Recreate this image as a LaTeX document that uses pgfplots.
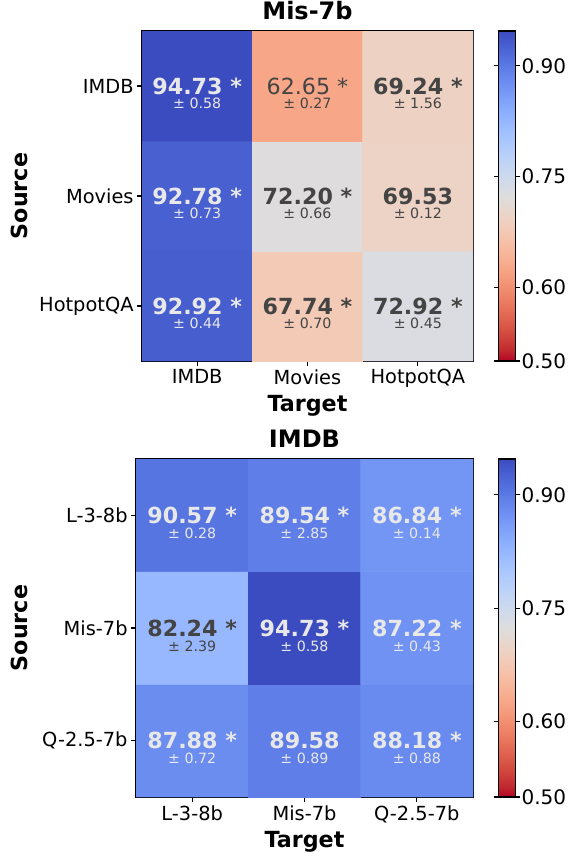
\documentclass[border=0pt]{standalone}
\usepackage{fontspec}
\setmainfont{DejaVu Sans}
\usepackage{pgfplots}
\pgfplotsset{compat=1.18}
\definecolor{lt}{RGB}{232,232,232}
\definecolor{dk}{RGB}{68,68,68}
\pgfplotsset{
 colormap={coolwarmr}{
 rgb255(0cm)=(180,4,38) rgb255(1cm)=(192,40,47) rgb255(2cm)=(203,62,56) rgb255(3cm)=(213,80,66)
 rgb255(4cm)=(222,96,77) rgb255(5cm)=(229,112,88) rgb255(6cm)=(236,127,99) rgb255(7cm)=(241,141,111)
 rgb255(8cm)=(244,154,123) rgb255(9cm)=(247,166,135) rgb255(10cm)=(247,177,148) rgb255(11cm)=(247,187,160)
 rgb255(12cm)=(245,196,173) rgb255(13cm)=(241,204,185) rgb255(14cm)=(236,211,197) rgb255(15cm)=(229,216,209)
 rgb255(16cm)=(221,221,221) rgb255(17cm)=(213,219,230) rgb255(18cm)=(204,217,238) rgb255(19cm)=(194,213,244)
 rgb255(20cm)=(184,208,249) rgb255(21cm)=(174,201,253) rgb255(22cm)=(163,194,255) rgb255(23cm)=(152,185,255)
 rgb255(24cm)=(141,176,254) rgb255(25cm)=(130,165,251) rgb255(26cm)=(119,154,247) rgb255(27cm)=(108,142,241)
 rgb255(28cm)=(98,130,234) rgb255(29cm)=(87,117,225) rgb255(30cm)=(77,104,215) rgb255(31cm)=(68,90,204)
 rgb255(32cm)=(59,76,192)
 },
 hm/.style={
  scale only axis, enlargelimits=false,
  xmin=-0.5, xmax=2.5, ymin=-0.5, ymax=2.5,
  xtick={0,1,2}, ytick={0,1,2},
  tick align=outside, major tick length=4.9pt,
  xtick pos=left, ytick pos=left,
  axis line style={line width=1.1pt, black},
  tick style={line width=1.1pt, black},
  ticklabel style={font=\fontsize{19.4}{23}\selectfont},
  title style={font=\fontsize{24}{28}\selectfont\bfseries, at={([yshift=6pt]axis description cs:0.5,1)}, anchor=base, inner sep=0pt},
  xlabel style={font=\fontsize{22.2}{26}\selectfont\bfseries, at={([yshift=-50pt]axis description cs:0.5,0)}, anchor=base, inner sep=0pt},
  colormap name=coolwarmr, point meta min=0.5, point meta max=0.9473,
  colorbar, colorbar/width=17pt,
  colorbar style={at={(parent axis.north east)}, anchor=north west, xshift=17pt,
    ytick={0.5,0.6,0.75,0.9}, yticklabels={0.50,0.60,0.75,0.90},
    yticklabel style={font=\fontsize{20}{24}\selectfont, inner sep=1pt},
    tick align=outside, major tick length=4.9pt,
    tick style={line width=1.1pt, black},
    axis line style={line width=1.1pt, black}},
 }
}
\newcommand\cell[7]{% x y ysd main sd color series
 \node[text=#6, font=\fontsize{22.2}{26}\selectfont#7, inner sep=0pt] at (axis cs:#1,#2) {#4};
 \node[text=#6, font=\fontsize{14.2}{17}\selectfont, inner sep=0pt] at (axis cs:#1,#3) {± #5};}
\begin{document}
\begin{tikzpicture}
\path[use as bounding box] (0pt,0pt) rectangle (570pt,-852pt);
\begin{axis}[hm, name=top, at={(142pt,-31pt)}, anchor=north west,
  width=331pt, height=330pt,
  xticklabels={IMDB,Movies,HotpotQA}, yticklabels={HotpotQA,Movies,IMDB},
  title={Mis-7b}, xlabel={Target}, ylabel={Source},
  ylabel style={font=\fontsize{22.2}{26}\selectfont\bfseries, at={([xshift=-114pt]axis description cs:0,0.5)}, anchor=base, inner sep=0pt}]
\addplot[matrix plot*, mesh/cols=3, point meta=explicit] table[x=x, y=y, meta=v] {
x y v
0 0 0.9292
1 0 0.6774
2 0 0.7292
0 1 0.9278
1 1 0.7220
2 1 0.6953
0 2 0.9473
1 2 0.6265
2 2 0.6924
};
\cell{0}{2}{1.84}{94.73 *}{0.58}{lt}{\bfseries}
\cell{1}{2}{1.84}{62.65 *}{0.27}{dk}{\mdseries}
\cell{2}{2}{1.84}{69.24 *}{1.56}{dk}{\bfseries}
\cell{0}{1}{0.84}{92.78 *}{0.73}{lt}{\bfseries}
\cell{1}{1}{0.84}{72.20 *}{0.66}{dk}{\bfseries}
\cell{2}{1}{0.84}{69.53}{0.12}{dk}{\bfseries}
\cell{0}{0}{-0.16}{92.92 *}{0.44}{lt}{\bfseries}
\cell{1}{0}{-0.16}{67.74 *}{0.70}{dk}{\bfseries}
\cell{2}{0}{-0.16}{72.92 *}{0.45}{dk}{\bfseries}
\end{axis}
\begin{axis}[hm, name=bot, at={(136pt,-459pt)}, anchor=north west,
  width=337pt, height=338pt,
  xticklabels={L-3-8b,Mis-7b,Q-2.5-7b}, yticklabels={Q-2.5-7b,Mis-7b,L-3-8b},
  title={IMDB}, xlabel={Target}, ylabel={Source},
  ylabel style={font=\fontsize{22.2}{26}\selectfont\bfseries, at={([xshift=-108pt]axis description cs:0,0.5)}, anchor=base, inner sep=0pt}]
\addplot[matrix plot*, mesh/cols=3, point meta=explicit] table[x=x, y=y, meta=v] {
x y v
0 0 0.8788
1 0 0.8958
2 0 0.8818
0 1 0.8224
1 1 0.9473
2 1 0.8722
0 2 0.9057
1 2 0.8954
2 2 0.8684
};
\cell{0}{2}{1.84}{90.57 *}{0.28}{lt}{\bfseries}
\cell{1}{2}{1.84}{89.54 *}{2.85}{lt}{\bfseries}
\cell{2}{2}{1.84}{86.84 *}{0.14}{lt}{\bfseries}
\cell{0}{1}{0.84}{82.24 *}{2.39}{dk}{\bfseries}
\cell{1}{1}{0.84}{94.73 *}{0.58}{lt}{\bfseries}
\cell{2}{1}{0.84}{87.22 *}{0.43}{lt}{\bfseries}
\cell{0}{0}{-0.16}{87.88 *}{0.72}{lt}{\bfseries}
\cell{1}{0}{-0.16}{89.58}{0.89}{lt}{\bfseries}
\cell{2}{0}{-0.16}{88.18 *}{0.88}{lt}{\bfseries}
\end{axis}
\end{tikzpicture}
\end{document}
